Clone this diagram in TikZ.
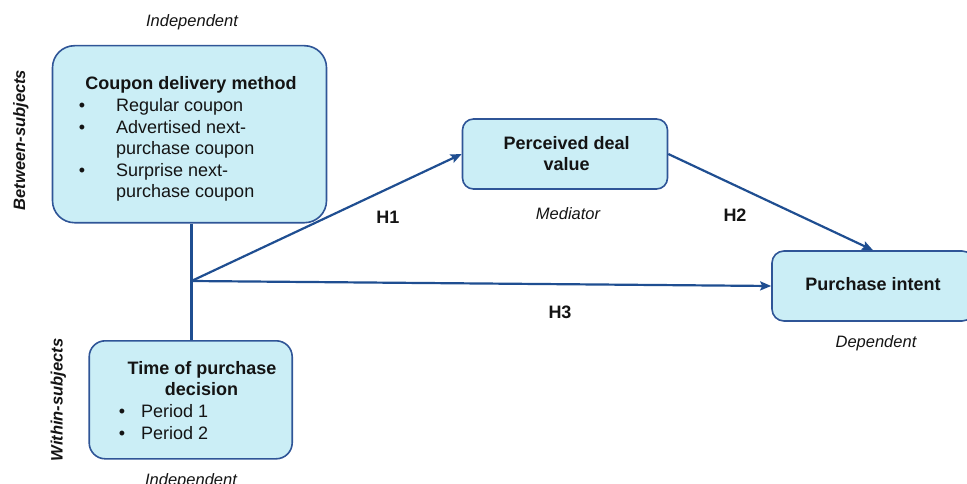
\documentclass[tikz,border=0pt]{standalone}
\usepackage{fontspec}
\setmainfont{Liberation Sans}
\usetikzlibrary{arrows.meta}
\definecolor{boxfill}{RGB}{203,238,246}
\definecolor{boxline}{RGB}{47,85,151}
\definecolor{linkcol}{RGB}{31,78,145}
\definecolor{txt}{RGB}{20,20,20}
\begin{document}
\begin{tikzpicture}[x=1pt,y=-1pt,
  varbox/.style={draw=boxline,line width=1.6pt,fill=boxfill,rectangle,inner sep=0pt},
  title/.style={anchor=base,font=\fontsize{18}{21.6}\selectfont\bfseries,text=txt,inner sep=0pt},
  item/.style={anchor=base west,font=\fontsize{18}{21.6}\selectfont,text=txt,inner sep=0pt},
  dot/.style={anchor=base,font=\fontsize{18}{21.6}\selectfont,text=txt,inner sep=0pt},
  role/.style={anchor=base,font=\fontsize{16.5}{20}\selectfont\itshape,text=txt,inner sep=0pt},
  side/.style={anchor=base,rotate=90,font=\fontsize{16.5}{20}\selectfont\bfseries\itshape,text=txt,inner sep=0pt},
  hyp/.style={anchor=base,font=\fontsize{18}{21.6}\selectfont\bfseries,text=txt,inner sep=0pt},
  link/.style={draw=linkcol,line width=2.2pt},
  arrow/.style={link,-{Stealth[length=11pt,width=9pt,inset=2pt]}}]
\useasboundingbox (0,0) rectangle (967,484);
\clip (0,0) rectangle (967,484);

% variable boxes
\node[varbox,rounded corners=22pt,minimum width=274pt,minimum height=177pt] (cdm) at (189.5,134.2) {};
\node[varbox,rounded corners=16pt,minimum width=203pt,minimum height=118pt] (tpd) at (190.7,399.8) {};
\node[varbox,rounded corners=11pt,minimum width=205pt,minimum height=70pt] (pdv) at (565,154) {};
\node[varbox,rounded corners=12pt,minimum width=202pt,minimum height=70pt] (pi) at (873,286) {};

% coupon delivery method
\node[title] (cdmt) at (191,90) {Coupon delivery method};
\node[dot] (cdb1) at (82,112) {•};
\node[item] (cdi1) at (116,112) {Regular coupon};
\node[dot] (cdb2) at (82,133.5) {•};
\node[item] (cdi2) at (116,133.5) {Advertised next-};
\node[item] (cdi2b) at (116,155) {purchase coupon};
\node[dot] (cdb3) at (82,176.5) {•};
\node[item] (cdi3) at (116,176.5) {Surprise next-};
\node[item] (cdi3b) at (116,197) {purchase coupon};

% time of purchase decision
\node[title] (tpdt1) at (202,374) {Time of purchase};
\node[title] (tpdt2) at (201.5,395.7) {decision};
\node[dot] (tpb1) at (122,417) {•};
\node[item] (tpi1) at (141,417) {Period 1};
\node[dot] (tpb2) at (122,439) {•};
\node[item] (tpi2) at (141,439) {Period 2};

% mediator and outcome
\node[title] (pdvt1) at (566.7,149.3) {Perceived deal};
\node[title] (pdvt2) at (566.7,171) {value};
\node[title] (pit) at (873,290) {Purchase intent};

% roles of the variables
\node[role] (r1) at (192,27) {Independent};
\node[role] (r2) at (191,485) {Independent};
\node[role] (r3) at (568,219) {Mediator};
\node[role] (r4) at (876,347) {Dependent};
\node[side] (s1) at (25,140) {Between-subjects};
\node[side] (s2) at (62.5,400) {Within-subjects};

% hypotheses
\node[hyp] (h1) at (388,223) {H1};
\node[hyp] (h2) at (735,221) {H2};
\node[hyp] (h3) at (560,318) {H3};

% connectors
\coordinate (j) at (191.5,281);
\draw[link] (j |- cdm.south) -- (j |- tpd.north);
\draw[arrow] (j) -- (pdv.west);
\draw[arrow] (j) -- (pi.west);
\draw[arrow] (pdv.east) -- (pi.north);
\end{tikzpicture}
\end{document}
